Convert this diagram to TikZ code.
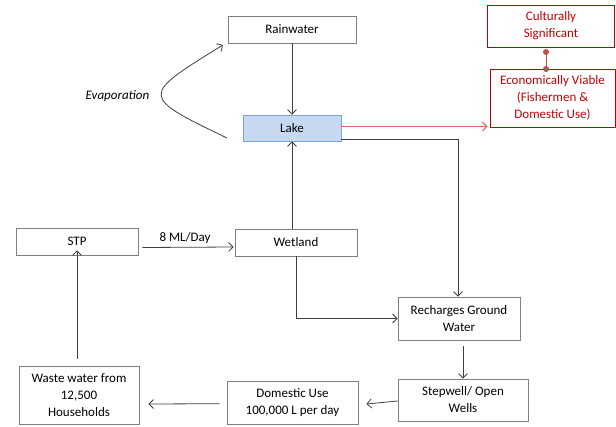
\documentclass[tikz,border=0pt]{standalone}
\usepackage{fontspec}
\setmainfont{Carlito}
\usetikzlibrary{arrows.meta,calc}
\definecolor{boxgray}{HTML}{7F7F7F}
\definecolor{linegray}{HTML}{404040}
\definecolor{darkred}{HTML}{C00000}
\definecolor{lightred}{HTML}{E06666}
\definecolor{dotred}{HTML}{C0504D}
\definecolor{lakefill}{HTML}{C6D9F1}
\definecolor{lakeborder}{HTML}{7BA3DC}
\tikzset{
  box/.style={draw=boxgray, line width=0.8pt, align=center, inner sep=0pt,
    font=\fontsize{13}{17}\selectfont},
  redbox/.style={box, draw=darkred, text=darkred},
  flow/.style={draw=linegray, line width=0.8pt, -{Straight Barb[length=4.5pt,width=9pt]}},
  redflow/.style={draw=lightred, line width=1pt, -{Straight Barb[length=4.5pt,width=9pt]}},
  lbl/.style={font=\fontsize{13}{17}\selectfont, inner sep=1pt}
}
\begin{document}
\begin{tikzpicture}[x=1pt,y=-1pt]
\useasboundingbox (0,0) rectangle (616,426);
\node[box, minimum width=128, minimum height=27] (rain) at (292,29.5) {Rainwater};
\node[box, fill=lakefill, draw=lakeborder, minimum width=98, minimum height=26] (lake) at (292,128) {Lake};
\node[redbox, minimum width=127, minimum height=42] (cult) at (551,26) {Culturally\\Significant};
\node[redbox, minimum width=125, minimum height=58] (econ) at (552.5,98) {Economically Viable\\(Fishermen \&\\Domestic Use)};
\node[box, minimum width=122, minimum height=27] (stp) at (77,241.5) {STP};
\node[box, minimum width=122, minimum height=27] (wet) at (296,242.5) {Wetland};
\node[box, minimum width=122, minimum height=43] (rech) at (459,318.5) {Recharges Ground\\Water};
\node[box, minimum width=130, minimum height=42] (well) at (463,400) {Stepwell/ Open\\Wells};
\node[box, minimum width=131, minimum height=43] (dom) at (292.5,402.5) {Domestic Use\\100,000 L per day};
\node[box, minimum width=120, minimum height=58] (waste) at (79,395) {Waste water from\\12,500\\Households};
\node[lbl, font=\fontsize{13}{17}\selectfont\itshape] (evap) at (117.5,96) {Evaporation};
\node[lbl] (rate) at (185,238) {8 ML/Day};

% connectors
\draw[flow] (rain.south) -- (lake.north);
\draw[flow] (lake.south |- wet.north) -- (lake.south);
\draw[redflow] ($(lake.east)+(0,-1.5)$) -- ($(econ.west |- lake.east)+(-2,-1.5)$);
\draw[flow] ($(lake.south east)+(0,-2)$) -| ($(rech.north)+(-1,0)$);
\draw[flow] ($(well.north |- rech.south)+(0,6)$) -- (well.north);
\draw[flow] (wet.south) |- (rech.west);
\draw[flow] ($(well.west)+(0,1)$) -- ($(dom.east)+(8,1.5)$);
\draw[flow] ($(dom.west)+(-7,1.2)$) -- ($(waste.east)+(9,9)$);
\draw[flow] ($(waste.north)+(-2,-7)$) -- ($(stp.south)+(0,-5)$);
\draw[flow] ($(stp.east)+(4,6)$) -- ($(wet.west)+(-1,4.5)$);
\draw[draw=dotred, line width=1pt] (546,52) -- (546,69);
\fill[dotred] (546,52) circle (3);
\fill[dotred] (546,69) circle (3);
\coordinate (evs) at (227,138);
\coordinate (eve) at (223,45);
\draw[flow] (evs) .. controls (140,96) and (140,96) .. (eve);
\end{tikzpicture}
\end{document}
